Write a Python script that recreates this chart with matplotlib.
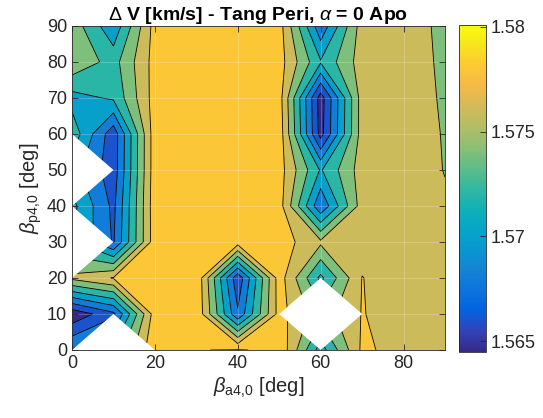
import numpy as np
import matplotlib
matplotlib.use("Agg")
import matplotlib.pyplot as plt
from matplotlib.colors import LinearSegmentedColormap, Normalize
from matplotlib.patches import Polygon
import matplotlib.cm as cm

plt.rcParams['font.family'] = ['Liberation Sans', 'DejaVu Sans']
plt.rcParams['mathtext.fontset'] = 'custom'
plt.rcParams['mathtext.rm'] = 'Liberation Sans'
plt.rcParams['mathtext.it'] = 'Liberation Sans:italic'
plt.rcParams['mathtext.bf'] = 'Liberation Sans:bold'

# grid of the sweep (deg)
beta_a = [0, 10, 20, 30, 40, 50, 60, 70, 80, 90]
beta_p = [0, 10, 20, 30, 40, 50, 60, 70, 80, 90]

# delta V [km/s], one row per beta_p, listed from beta_p = 90 down to 0
nan = np.nan
dv_90 = [1.5752, 1.5705, 1.5788, 1.5790, 1.5790, 1.5789, 1.5685, 1.5770, 1.5768, 1.5756]
dv_80 = [1.5756, 1.5732, 1.5788, 1.5790, 1.5790, 1.5789, 1.5722, 1.5770, 1.5768, 1.5757]
dv_70 = [1.5712, 1.5723, 1.5789, 1.5790, 1.5790, 1.5789, 1.5650, 1.5770, 1.5768, 1.5758]
dv_60 = [1.5733, 1.5667, 1.5792, 1.5790, 1.5790, 1.5792, 1.5652, 1.5770, 1.5768, 1.5759]
dv_50 = [nan,    1.5668, 1.5792, 1.5790, 1.5790, 1.5789, 1.5718, 1.5770, 1.5768, 1.57595]
dv_40 = [1.5726, 1.5675, 1.5793, 1.5790, 1.5790, 1.5789, 1.5683, 1.5770, 1.5768, 1.5762]
dv_30 = [nan,    1.5678, 1.5792, 1.5791, 1.5790, 1.5790, 1.5764, 1.5772, 1.5768, 1.5765]
dv_20 = [1.5765, 1.5781, 1.5793, 1.5797, 1.5665, 1.5790, 1.5715, 1.57805, 1.5769, 1.5766]
dv_10 = [1.5645, 1.5675, 1.5790, 1.5797, 1.5683, 1.5788, nan,    1.5781, 1.5770, 1.5766]
dv_00 = [1.5702, nan,    1.5796, 1.57995, 1.5801, 1.5797, 1.5710, 1.5784, 1.5772, 1.5767]

levels = [1.566, 1.568, 1.570, 1.572, 1.574, 1.576, 1.578, 1.580]
cb_ticks = [1.565, 1.57, 1.575, 1.58]
cb_labels = ['1.565', '1.57', '1.575', '1.58']

# parula (sampled)
parula_pts = [
    (0.2081, 0.1663, 0.5292), (0.1959, 0.2645, 0.7279), (0.0117, 0.3875, 0.8820),
    (0.0498, 0.4586, 0.8641), (0.0793, 0.5200, 0.8312), (0.0343, 0.5966, 0.8199),
    (0.0228, 0.6535, 0.7768), (0.0843, 0.6928, 0.7062), (0.2178, 0.7250, 0.6193),
    (0.3953, 0.7459, 0.5244), (0.5709, 0.7485, 0.4494), (0.7184, 0.7411, 0.3905),
    (0.8507, 0.7299, 0.3360), (0.9739, 0.7314, 0.2666), (0.9880, 0.8066, 0.1794),
    (0.9598, 0.9218, 0.0948), (0.9763, 0.9831, 0.0538)]
pos = [k * 4 / 63 for k in range(16)] + [1.0]
parula = LinearSegmentedColormap.from_list('parula', list(zip(pos, parula_pts)))

Z = np.array([dv_00, dv_10, dv_20, dv_30, dv_40, dv_50, dv_60, dv_70, dv_80, dv_90])
X, Y = np.meshgrid(beta_a, beta_p)
holes = np.isnan(Z)

# fill the holes with the neighbour mean so the contourer has a full grid,
# then blank out the diamond around each missing point (like matlab does)
Zf = Z.copy()
ny, nx = Z.shape
for j, i in zip(*np.where(holes)):
    nb = []
    for jj, ii in ((j - 1, i), (j + 1, i), (j, i - 1), (j, i + 1)):
        if 0 <= jj < ny and 0 <= ii < nx and not np.isnan(Z[jj, ii]):
            nb.append(Z[jj, ii])
    Zf[j, i] = np.mean(nb)

zmin, zmax = np.nanmin(Z), np.nanmax(Z)
norm = Normalize(zmin, zmax)
bounds = [zmin - 1e-9] + levels + [zmax + 1e-9]
band_cols = [parula(norm(zmin))] + [parula(norm(l)) for l in levels]

fig = plt.figure(figsize=(5.43, 4.18), dpi=100)
ax = fig.add_axes([0.1326, 0.1627, 0.6869, 0.7751])
cax = fig.add_axes([0.8453, 0.1585, 0.0497, 0.7823])

ax.contourf(X, Y, Zf, levels=bounds, colors=band_cols)
ax.contour(X, Y, Zf, levels=levels, colors='k', linewidths=0.6)

dx = beta_a[1] - beta_a[0]
dy = beta_p[1] - beta_p[0]
for j, i in zip(*np.where(holes)):
    x0, y0 = beta_a[i], beta_p[j]
    ax.add_patch(Polygon([(x0 - dx, y0), (x0, y0 + dy), (x0 + dx, y0), (x0, y0 - dy)],
                         closed=True, facecolor='white', edgecolor='none', zorder=3))

ax.set_xlim(0, 90)
ax.set_ylim(0, 90)
ax.set_xticks([0, 20, 40, 60, 80])
ax.set_yticks(beta_p)
ax.grid(True, color='white', alpha=0.3, linewidth=0.5)
ax.set_axisbelow(False)
ax.tick_params(direction='in', top=True, right=True, length=4, width=0.6,
               labelsize=13, colors='#262626')
for s in ax.spines.values():
    s.set_color('#262626')
    s.set_linewidth(0.6)
    s.set_zorder(4)

ax.set_xlabel(r'$\beta_{\rm a4,\!0}$ [deg]', fontsize=14.5, color='#262626', labelpad=3)
ax.set_ylabel(r'$\beta_{\rm p4,\!0}$ [deg]', fontsize=14.5, color='#262626', labelpad=2)
ax.set_title(r'$\Delta$ V [km/s] - Tang Peri, $\alpha$ = 0 Apo', fontsize=14,
             fontweight='bold', pad=4)

cb = fig.colorbar(cm.ScalarMappable(norm=norm, cmap=parula), cax=cax)
cb.set_ticks(cb_ticks)
cb.set_ticklabels(cb_labels)
cb.ax.tick_params(direction='in', length=4, width=0.6, labelsize=13, colors='#262626')
cb.outline.set_edgecolor('#262626')
cb.outline.set_linewidth(0.6)

fig.savefig('out.png', dpi=100)
